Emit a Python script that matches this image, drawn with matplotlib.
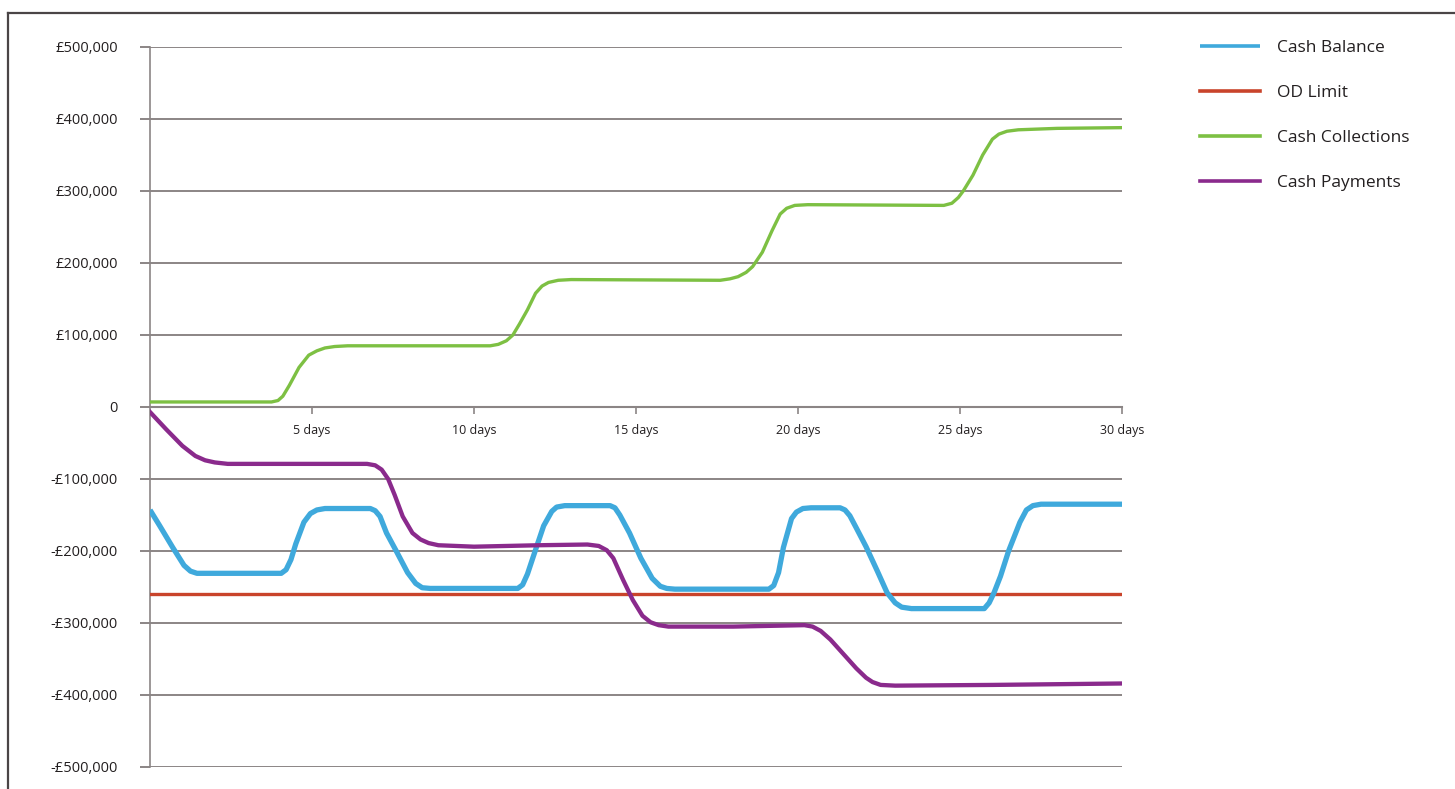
import numpy as np
import matplotlib
matplotlib.use("Agg")
from matplotlib import pyplot as plt
from matplotlib.lines import Line2D
from matplotlib.ticker import FuncFormatter

plt.rcParams['font.family'] = ['Open Sans', 'DejaVu Sans']

# values in £ thousands, x in days
balance_days = [0, 0.3, 0.7, 1.05, 1.25, 1.45, 4.05, 4.2, 4.35, 4.5, 4.75, 4.95, 5.15, 5.4,
                6.8, 6.95, 7.1, 7.3, 7.6, 7.95, 8.2, 8.4, 8.65, 11.35, 11.5, 11.65, 11.85,
                12.15, 12.4, 12.55, 12.8, 14.2, 14.35, 14.5, 14.8, 15.15, 15.5, 15.75, 15.95,
                16.2, 19.1, 19.25, 19.4, 19.55, 19.8, 19.95, 20.15, 20.4, 21.3, 21.45, 21.6,
                21.8, 22.1, 22.45, 22.75, 23.0, 23.2, 23.5, 25.75, 25.9, 26.05, 26.25, 26.5,
                26.85, 27.05, 27.25, 27.5, 30]
balance = [-143, -165, -195, -220, -228, -231, -231, -226, -212, -190, -160, -148, -143,
           -141, -141, -144, -152, -175, -200, -230, -245, -251, -252, -252, -247, -232,
           -205, -165, -145, -139, -137, -137, -140, -150, -175, -210, -238, -249, -252,
           -253, -253, -248, -230, -195, -155, -146, -141, -140, -140, -143, -151, -168,
           -194, -228, -258, -272, -278, -280, -280, -272, -258, -235, -200, -160, -143,
           -137, -135, -135]

od_days = [0, 30]
od_limit = [-260, -260]

collect_days = [0, 3.75, 3.95, 4.1, 4.3, 4.6, 4.9, 5.15, 5.4, 5.7, 6.1, 10.5, 10.75, 11.0,
                11.2, 11.4, 11.65, 11.9, 12.1, 12.3, 12.6, 13, 17.6, 17.9, 18.15, 18.4, 18.6,
                18.9, 19.2, 19.45, 19.65, 19.9, 20.3, 24.5, 24.75, 24.95, 25.1, 25.4, 25.7,
                26.0, 26.2, 26.45, 26.8, 28, 30]
collections = [7, 7, 9, 15, 30, 55, 72, 78, 82, 84, 85, 85, 87, 92, 100, 115, 135, 158, 168,
               173, 176, 177, 176, 178, 181, 187, 195, 215, 245, 268, 276, 280, 281, 280, 283,
               291, 300, 322, 350, 372, 379, 383, 385, 387, 388]

pay_days = [0, 0.5, 1.0, 1.4, 1.7, 2.0, 2.4, 6.7, 6.95, 7.15, 7.35, 7.55, 7.8, 8.1, 8.35,
            8.6, 8.9, 10, 12, 13.5, 13.85, 14.1, 14.3, 14.6, 14.9, 15.2, 15.45, 15.7, 16.0,
            18, 20.2, 20.45, 20.7, 21.0, 21.4, 21.8, 22.1, 22.3, 22.55, 23, 26, 30]
payments = [-7, -31, -54, -68, -74, -77, -79, -79, -81, -87, -100, -122, -152, -175, -184,
            -189, -192, -194, -192, -191, -193, -199, -210, -240, -268, -290, -299, -303,
            -305, -305, -303, -305, -311, -323, -343, -363, -376, -382, -386, -387, -386,
            -384]

series_names = ['Cash Balance', 'OD Limit', 'Cash Collections', 'Cash Payments']
series_colors = ['#3fa9dc', '#c9442b', '#7dc043', '#8a2a8c']

x_ticks = [5, 10, 15, 20, 25, 30]
y_ticks = list(range(-500, 501, 100))

W, H = 1455, 789
fig = plt.figure(figsize=(W / 100, H / 100), dpi=100)
ax = fig.add_axes([150 / W, 1 - 767 / H, (1122 - 150) / W, (767 - 47) / H])

grid_col = '#8b8585'
txt_col = '#231f20'

ax.plot(balance_days, balance, color=series_colors[0], lw=3.8, solid_joinstyle='round',
        solid_capstyle='butt', label=series_names[0], zorder=4)
ax.plot(od_days, od_limit, color=series_colors[1], lw=2.4, label=series_names[1], zorder=3)
ax.plot(collect_days, collections, color=series_colors[2], lw=2.4, solid_joinstyle='round',
        label=series_names[2], zorder=3)
ax.plot(pay_days, payments, color=series_colors[3], lw=3.1, solid_joinstyle='round',
        label=series_names[3], zorder=5)

ax.set_xlim(0, 30)
ax.set_ylim(-500, 500)

for side in ['top', 'right']:
    ax.spines[side].set_visible(False)
ax.spines['left'].set_color(grid_col)
ax.spines['left'].set_linewidth(1.2)
ax.spines['bottom'].set_position(('data', 0))
ax.spines['bottom'].set_color(grid_col)
ax.spines['bottom'].set_linewidth(1.5)

ax.set_yticks(y_ticks)
ax.yaxis.set_major_formatter(FuncFormatter(
    lambda v, p: '0' if v == 0 else ('-' if v < 0 else '') + '£{:,.0f}'.format(abs(v) * 1000)))
ax.tick_params(axis='y', direction='out', length=7.2, width=1.4, color=grid_col,
               pad=16, labelsize=10.5, labelcolor=txt_col)
ax.yaxis.grid(True, color=grid_col, lw=1.4)
ax.set_axisbelow(True)

ax.set_xticks(x_ticks)
ax.set_xticklabels(['%d days' % d for d in x_ticks])
ax.tick_params(axis='x', direction='out', length=5, width=1.2, color=grid_col,
               pad=7, labelsize=9, labelcolor=txt_col)

leg = fig.legend(loc='upper left', bbox_to_anchor=(1184 / W, 1 - 24 / H), frameon=False,
                 fontsize=12.5, handlelength=3.45, handletextpad=1.0, labelspacing=1.67)
for t in leg.get_texts():
    t.set_color(txt_col)
for h in leg.legend_handles:
    h.set_linewidth(2.6)

# outer frame, top and left edges only
fig.add_artist(Line2D([8 / W, 8 / W], [0, 1 - 13 / H], transform=fig.transFigure,
                      color='#4a4546', lw=1.6))
fig.add_artist(Line2D([8 / W, 1], [1 - 13 / H, 1 - 13 / H], transform=fig.transFigure,
                      color='#4a4546', lw=1.6))

fig.savefig('out.png', dpi=100)
